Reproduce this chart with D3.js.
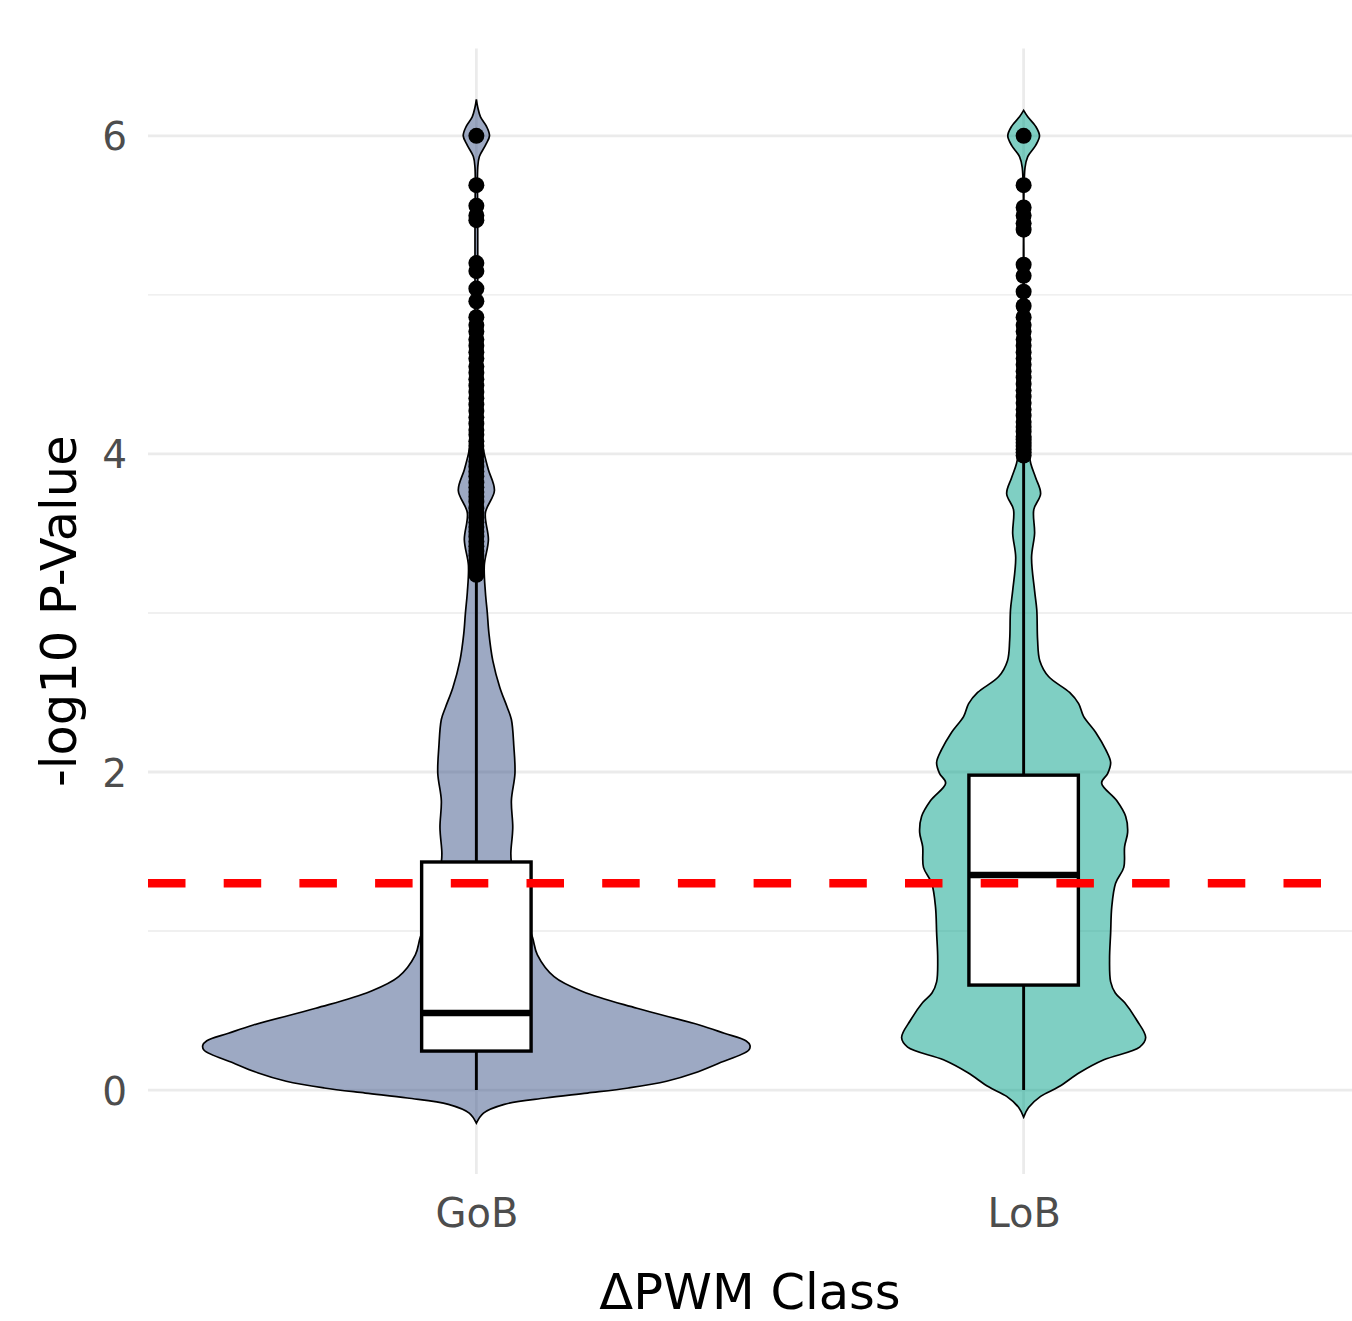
<!DOCTYPE html>
<html>
<head>
<meta charset="utf-8">
<script src="https://cdn.jsdelivr.net/npm/d3@7"></script>
<style>
  body { margin: 0; background: #fff; }
  text { font-family: "DejaVu Sans", sans-serif; }
</style>
</head>
<body>
<div id="chart"></div>
<script>
// categories and box stats
var classes = ["GoB", "LoB"];
var fills = ["#3C5488", "#00A087"];

var q1 = [0.245, 0.66];
var median = [0.485, 1.352];
var q3 = [1.434, 1.98];
var whiskerLow = [0, 0];
var whiskerHigh = [3.2, 3.95];

// violin profiles: [value, relative density]
var gobDensity = [
  [-0.208, 0], [-0.145, 0.026], [-0.09, 0.102], [-0.05, 0.252], [-0.019, 0.406],
  [0.013, 0.556], [0.055, 0.695], [0.107, 0.797], [0.17, 0.888], [0.25, 0.995],
  [0.28, 1.0], [0.31, 0.985], [0.357, 0.906], [0.409, 0.815], [0.514, 0.587],
  [0.618, 0.39], [0.713, 0.284], [0.85, 0.223], [0.96, 0.205], [1.1, 0.176],
  [1.25, 0.15], [1.43, 0.128], [1.49, 0.126], [1.65, 0.133], [1.82, 0.128],
  [1.99, 0.141], [2.16, 0.137], [2.33, 0.128], [2.41, 0.112], [2.53, 0.086],
  [2.7, 0.06], [2.87, 0.046], [3.0, 0.04], [3.13, 0.033], [3.3, 0.029],
  [3.46, 0.044], [3.63, 0.033], [3.77, 0.066], [3.9, 0.044], [4.0, 0.029],
  [4.1, 0.018], [4.3, 0.007], [4.6, 0.005], [5.0, 0.005], [5.5, 0.005],
  [5.8, 0.005], [5.87, 0.011], [5.94, 0.033], [6.0, 0.048], [6.06, 0.037],
  [6.12, 0.015], [6.18, 0.005], [6.23, 0]
];
var lobDensity = [
  [-0.17, 0], [-0.11, 0.018], [-0.04, 0.062], [0.02, 0.128], [0.11, 0.205],
  [0.19, 0.293], [0.27, 0.424], [0.33, 0.446], [0.44, 0.413], [0.55, 0.369],
  [0.61, 0.335], [0.68, 0.318], [0.82, 0.314], [0.99, 0.318], [1.15, 0.322],
  [1.3, 0.336], [1.4, 0.366], [1.53, 0.369], [1.62, 0.38], [1.72, 0.373],
  [1.82, 0.34], [1.93, 0.285], [1.99, 0.307], [2.06, 0.318], [2.14, 0.3],
  [2.25, 0.263], [2.35, 0.219], [2.43, 0.201], [2.5, 0.168], [2.6, 0.091],
  [2.7, 0.059], [2.83, 0.051], [3.02, 0.048], [3.14, 0.04], [3.35, 0.029],
  [3.5, 0.04], [3.65, 0.037], [3.75, 0.062], [3.85, 0.044], [3.94, 0.026],
  [4.05, 0.015], [4.3, 0.007], [4.6, 0.005], [5.8, 0.005], [5.87, 0.015],
  [5.94, 0.044], [6.0, 0.058], [6.06, 0.044], [6.12, 0.015], [6.16, 0]
];

// outliers
var gobOutliers = [3.24, 3.27, 3.30, 3.33, 3.36, 3.39, 3.42, 3.45, 3.48, 3.51, 3.54, 3.57,
  3.60, 3.63, 3.66, 3.70, 3.73, 3.76, 3.79, 3.82, 3.86, 3.89, 3.92, 3.95, 3.99, 4.02,
  4.05, 4.08, 4.12, 4.15, 4.19, 4.23, 4.27, 4.31, 4.35, 4.39, 4.43, 4.47, 4.51, 4.55,
  4.60, 4.64, 4.68, 4.72, 4.77, 4.81, 4.86, 4.96, 5.04, 5.15, 5.20, 5.47, 5.50, 5.56,
  5.69, 6.00];
var lobOutliers = [3.99, 4.01, 4.03, 4.05, 4.07, 4.09, 4.11, 4.14, 4.17, 4.20, 4.24,
  4.28, 4.32, 4.36, 4.40, 4.44, 4.48, 4.52, 4.56, 4.60, 4.64, 4.68, 4.72, 4.77, 4.81,
  4.86, 4.93, 5.02, 5.12, 5.19, 5.41, 5.45, 5.50, 5.55, 5.69, 6.00];

var threshold = 1.301;
var majorTicks = [0, 2, 4, 6];
var minorTicks = [1, 3, 5];

var densities = [gobDensity, lobDensity];
var outliers = [gobOutliers, lobOutliers];

var svgWidth = 1352;
var svgHeight = 1321;
var panel = { left: 148, right: 1352, top: 48.4, bottom: 1174 };

var svg = d3.select("#chart").append("svg")
  .attr("width", svgWidth)
  .attr("height", svgHeight);

var x = d3.scalePoint()
  .domain(classes)
  .range([panel.left, panel.right])
  .padding(0.6);

var y = d3.scaleLinear()
  .domain([-0.528, 6.55])
  .range([panel.bottom, panel.top]);

var step = x.step();
var w = d3.scaleLinear().domain([0, 1]).range([0, step * 0.5]);

// grid
svg.append("g").selectAll("line.minor")
  .data(minorTicks).enter().append("line")
  .attr("x1", panel.left).attr("x2", panel.right)
  .attr("y1", d => y(d)).attr("y2", d => y(d))
  .attr("stroke", "#EBEBEB").attr("stroke-width", 1.4);

svg.append("g").selectAll("line.major")
  .data(majorTicks).enter().append("line")
  .attr("x1", panel.left).attr("x2", panel.right)
  .attr("y1", d => y(d)).attr("y2", d => y(d))
  .attr("stroke", "#EBEBEB").attr("stroke-width", 2.8);

svg.append("g").selectAll("line.vgrid")
  .data(classes).enter().append("line")
  .attr("x1", d => x(d)).attr("x2", d => x(d))
  .attr("y1", panel.top).attr("y2", panel.bottom)
  .attr("stroke", "#EBEBEB").attr("stroke-width", 2.8);

// violins
classes.forEach(function(c, i) {
  var cx = x(c);
  var area = d3.area()
    .y(d => y(d[0]))
    .x0(d => cx - w(d[1]))
    .x1(d => cx + w(d[1]))
    .curve(d3.curveCatmullRom);

  svg.append("path")
    .datum(densities[i])
    .attr("d", area)
    .attr("fill", fills[i])
    .attr("fill-opacity", 0.5)
    .attr("stroke", "#000")
    .attr("stroke-width", 1.7);
});

// box plots
var boxHalf = step * 0.1;
classes.forEach(function(c, i) {
  var cx = x(c);
  var g = svg.append("g");

  g.append("line")
    .attr("x1", cx).attr("x2", cx)
    .attr("y1", y(q3[i])).attr("y2", y(whiskerHigh[i]))
    .attr("stroke", "#000").attr("stroke-width", 2.9);
  g.append("line")
    .attr("x1", cx).attr("x2", cx)
    .attr("y1", y(q1[i])).attr("y2", y(whiskerLow[i]))
    .attr("stroke", "#000").attr("stroke-width", 2.9);

  g.append("rect")
    .attr("x", cx - boxHalf)
    .attr("width", boxHalf * 2)
    .attr("y", y(q3[i]))
    .attr("height", y(q1[i]) - y(q3[i]))
    .attr("fill", "#fff")
    .attr("stroke", "#000")
    .attr("stroke-width", 3.4);

  g.append("line")
    .attr("x1", cx - boxHalf).attr("x2", cx + boxHalf)
    .attr("y1", y(median[i])).attr("y2", y(median[i]))
    .attr("stroke", "#000").attr("stroke-width", 6.5);

  g.selectAll("circle")
    .data(outliers[i]).enter().append("circle")
    .attr("cx", cx)
    .attr("cy", d => y(d))
    .attr("r", 8)
    .attr("fill", "#000");
});

// threshold line
svg.append("line")
  .attr("x1", panel.left).attr("x2", panel.right)
  .attr("y1", y(threshold)).attr("y2", y(threshold))
  .attr("stroke", "#FF0000")
  .attr("stroke-width", 8.5)
  .attr("stroke-dasharray", "37.5,38.2");

// axes (labels only)
var leftAxis = d3.axisLeft(y).tickValues(majorTicks).tickSize(0).tickPadding(21);
var yAxis = svg.append("g")
  .attr("transform", `translate(${panel.left},0)`)
  .call(leftAxis);
yAxis.select(".domain").remove();
yAxis.selectAll("text")
  .attr("dy", "0.36em")
  .attr("font-size", 39)
  .attr("font-family", "DejaVu Sans")
  .attr("fill", "#4D4D4D");

var bottomAxis = d3.axisBottom(x).tickSize(0).tickPadding(25);
var xAxis = svg.append("g")
  .attr("transform", `translate(0,${panel.bottom})`)
  .call(bottomAxis);
xAxis.select(".domain").remove();
xAxis.selectAll("text")
  .attr("font-size", 40)
  .attr("font-family", "DejaVu Sans")
  .attr("fill", "#4D4D4D");

// titles
svg.append("text")
  .attr("x", (panel.left + panel.right) / 2)
  .attr("y", 1309)
  .attr("text-anchor", "middle")
  .attr("font-size", 49.5)
  .attr("fill", "#000")
  .text("ΔPWM Class");

svg.append("text")
  .attr("transform", `translate(76,${(panel.top + panel.bottom) / 2}) rotate(-90)`)
  .attr("text-anchor", "middle")
  .attr("font-size", 49.5)
  .attr("fill", "#000")
  .text("-log10 P-Value");
</script>
</body>
</html>
